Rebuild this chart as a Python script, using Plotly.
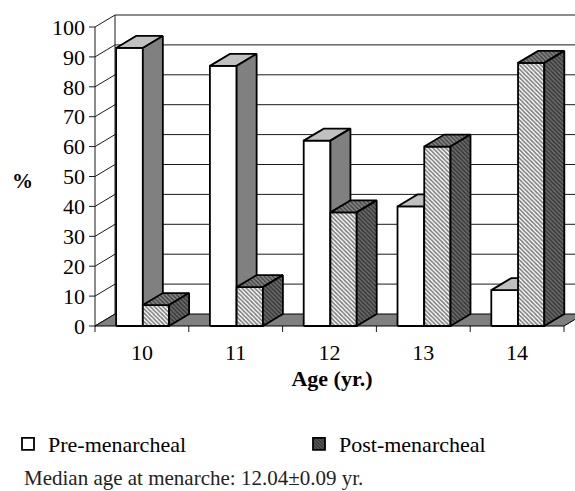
import plotly.graph_objects as go

# ---- data ----
ages = ["10", "11", "12", "13", "14"]
pre_menarcheal = [93, 87, 62, 40, 12]
post_menarcheal = [7, 13, 38, 60, 88]
y_ticks = [0, 10, 20, 30, 40, 50, 60, 70, 80, 90, 100]
series_names = ["Pre-menarcheal", "Post-menarcheal"]
footnote = "Median age at menarche: 12.04±0.09 yr."

# ---- geometry (pixels -> data units) ----
W, H = 575, 491
ML, MT, MB, MR = 89, 12, 158, 0
X0PX, CATPX = 95.0, 93.8      # front-left corner, px per category
Y0PX, PPU = 326.0, 2.99       # y of value 0, px per percent
xmin = (ML - X0PX) / CATPX
xmax = (W - MR - X0PX) / CATPX
ymax = (Y0PX - MT) / PPU
ymin = -((H - MB) - Y0PX) / PPU
DX = 20 / CATPX               # depth offset (x)
DY = 12 / PPU                 # depth offset (y)
TICK_X = 6 / CATPX
TICK_Y = 6 / PPU
PRE_SPAN = (0.225, 0.51)
POST_SPAN = (0.51, 0.79)
FONT = "Times New Roman, Liberation Serif, serif"
n = len(ages)


def faces(values, span):
    fx, fy, tx, ty, sx, sy = [], [], [], [], [], []
    for i, v in enumerate(values):
        a, b = i + span[0], i + span[1]
        fx += [a, b, b, a, a, None]
        fy += [0, 0, v, v, 0, None]
        tx += [a, b, b + DX, a + DX, a, None]
        ty += [v, v, v + DY, v + DY, v, None]
        sx += [b, b + DX, b + DX, b, b, None]
        sy += [0, DY, v + DY, v, 0, None]
    return (fx, fy), (tx, ty), (sx, sy)


fig = go.Figure()

# walls: side-wall diagonals (with tick), back-wall gridlines, edges
lx, ly = [], []
for v in y_ticks:
    lx += [-TICK_X, 0, DX, None]
    ly += [v, v, v + DY, None]
    if v > 0:
        lx += [DX, xmax + 1, None]
        ly += [v + DY, v + DY, None]
lx += [DX, DX, None, 0, 0, None]
ly += [DY, 100 + DY, None, 0, 100, None]
for i in range(n + 1):
    lx += [i, i, None]
    ly += [0, -TICK_Y, None]
fig.add_trace(go.Scatter(x=lx, y=ly, mode="lines", line=dict(color="#1a1a1a", width=1),
                         hoverinfo="skip", showlegend=False))

# floor
fig.add_trace(go.Scatter(x=[0, n, n + DX, DX, 0], y=[0, 0, DY, DY, 0], mode="lines",
                         fill="toself", fillcolor="#808080",
                         line=dict(color="black", width=1), hoverinfo="skip", showlegend=False))

edge = dict(color="black", width=1.8)

# Pre-menarcheal bars
(fx, fy), (tx, ty), (sx, sy) = faces(pre_menarcheal, PRE_SPAN)
fig.add_trace(go.Scatter(x=fx, y=fy, mode="lines", fill="toself", fillcolor="white",
                         line=edge, showlegend=False, hoverinfo="skip"))
fig.add_trace(go.Scatter(x=tx, y=ty, mode="lines", fill="toself", fillcolor="#c0c0c0",
                         line=edge, showlegend=False, hoverinfo="skip"))
fig.add_trace(go.Scatter(x=sx, y=sy, mode="lines", fill="toself", fillcolor="#808080",
                         line=edge, showlegend=False, hoverinfo="skip"))

# Post-menarcheal bars (hatched)
(fx, fy), (tx, ty), (sx, sy) = faces(post_menarcheal, POST_SPAN)
fig.add_trace(go.Scatter(x=fx, y=fy, mode="lines", fill="toself", fillcolor="white",
                         fillpattern=dict(shape="\\", fgcolor="black", bgcolor="white",
                                          size=3, solidity=0.55),
                         line=edge, showlegend=False, hoverinfo="skip"))
fig.add_trace(go.Scatter(x=tx, y=ty, mode="lines", fill="toself", fillcolor="#8a8a8a",
                         fillpattern=dict(shape="\\", fgcolor="black", bgcolor="#8a8a8a",
                                          size=3, solidity=0.5),
                         line=edge, showlegend=False, hoverinfo="skip"))
fig.add_trace(go.Scatter(x=sx, y=sy, mode="lines", fill="toself", fillcolor="#6a6a6a",
                         fillpattern=dict(shape="\\", fgcolor="black", bgcolor="#6e6e6e",
                                          size=3, solidity=0.5),
                         line=edge, showlegend=False, hoverinfo="skip"))

# legend entries
fig.add_trace(go.Bar(x=[-10], y=[1], name=series_names[0], legend="legend",
                     marker=dict(color="white", line=dict(color="black", width=1.8))))
fig.add_trace(go.Bar(x=[-10], y=[1], name=series_names[1], legend="legend2",
                     marker=dict(color="white", line=dict(color="black", width=1.8),
                                 pattern=dict(shape="\\", fgcolor="black", bgcolor="#606060",
                                              size=3, solidity=0.5))))

pw = W - ML - MR
ph = H - MT - MB


def px_x(p):
    return (p - ML) / pw


def px_y(p):
    return (H - MB - p) / ph


legend_common = dict(orientation="h", xanchor="left", y=px_y(444), yanchor="middle",
                     font=dict(family=FONT, size=22, color="black"),
                     bgcolor="rgba(0,0,0,0)")

fig.update_layout(
    width=W, height=H,
    margin=dict(l=ML, r=MR, t=MT, b=MB, pad=0),
    paper_bgcolor="white", plot_bgcolor="white",
    font=dict(family=FONT, size=22, color="black"),
    xaxis=dict(range=[xmin, xmax], tickvals=[i + 0.5 for i in range(n)], ticktext=ages,
               ticks="", showgrid=False, zeroline=False, showline=False,
               ticklabelstandoff=4,
               tickfont=dict(family=FONT, size=22, color="black"),
               title=dict(text="<b>Age (yr.)</b>", font=dict(family=FONT, size=22),
                          standoff=6)),
    yaxis=dict(range=[ymin, ymax], tickvals=y_ticks, ticks="", showgrid=False,
               zeroline=False, showline=False, ticklabelstandoff=3,
               tickfont=dict(family=FONT, size=22, color="black")),
    showlegend=True,
    legend=dict(x=px_x(8), **legend_common),
    legend2=dict(x=px_x(299), **legend_common),
    annotations=[
        dict(text="<b>%</b>", x=px_x(22), y=px_y(181), xref="paper", yref="paper",
             showarrow=False, xanchor="center", yanchor="middle",
             font=dict(family=FONT, size=21, color="black")),
        dict(text=footnote, x=px_x(22), y=px_y(478), xref="paper", yref="paper",
             showarrow=False, xanchor="left", yanchor="middle",
             font=dict(family=FONT, size=21, color="#222")),
    ],
)

fig.write_html("out.html")
